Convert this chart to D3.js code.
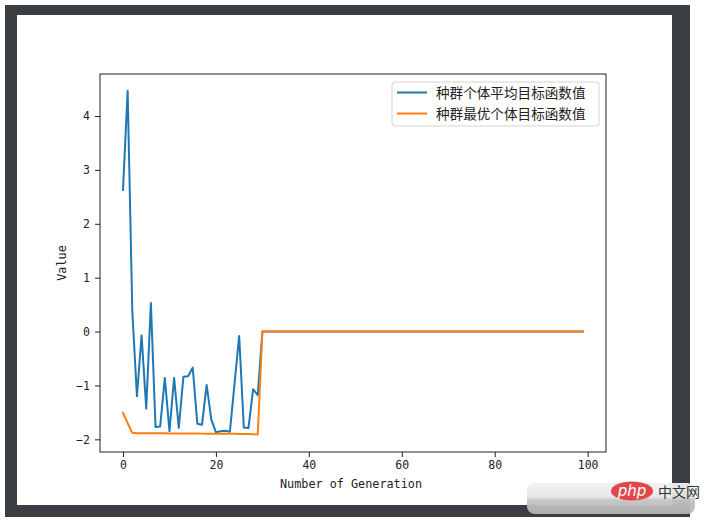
<!DOCTYPE html>
<html>
<head>
<meta charset="utf-8">
<script src="https://cdn.jsdelivr.net/npm/d3@7"></script>
<style>
  body { margin: 0; background: #fff; }
  svg { display: block; }
</style>
</head>
<body>
<svg id="chart"></svg>
<script>
(function() {

    // Mean objective value of the population, per generation
    const avgValues = [
        2.63, 4.47, 0.38, -1.20, -0.07, -1.43, 0.53, -1.77, -1.76, -0.86,
        -1.85, -0.86, -1.79, -0.84, -0.83, -0.67, -1.71, -1.73, -0.99, -1.63,
        -1.87, -1.85, -1.84, -1.86, -0.97, -0.08, -1.78, -1.79, -1.07, -1.18,
        0, 0, 0, 0, 0, 0, 0, 0, 0, 0,
        0, 0, 0, 0, 0, 0, 0, 0, 0, 0,
        0, 0, 0, 0, 0, 0, 0, 0, 0, 0,
        0, 0, 0, 0, 0, 0, 0, 0, 0, 0,
        0, 0, 0, 0, 0, 0, 0, 0, 0, 0,
        0, 0, 0, 0, 0, 0, 0, 0, 0, 0,
        0, 0, 0, 0, 0, 0, 0, 0, 0, 0
    ];
    // Best individual's objective value, per generation
    const bestValues = [
        -1.51, -1.70, -1.88, -1.885, -1.885, -1.886, -1.887, -1.888, -1.888, -1.889,
        -1.890, -1.890, -1.891, -1.892, -1.892, -1.893, -1.893, -1.894, -1.895, -1.895,
        -1.896, -1.897, -1.897, -1.898, -1.898, -1.899, -1.900, -1.900, -1.905, -1.910,
        0, 0, 0, 0, 0, 0, 0, 0, 0, 0,
        0, 0, 0, 0, 0, 0, 0, 0, 0, 0,
        0, 0, 0, 0, 0, 0, 0, 0, 0, 0,
        0, 0, 0, 0, 0, 0, 0, 0, 0, 0,
        0, 0, 0, 0, 0, 0, 0, 0, 0, 0,
        0, 0, 0, 0, 0, 0, 0, 0, 0, 0,
        0, 0, 0, 0, 0, 0, 0, 0, 0, 0
    ];
    const seriesNames = ['种群个体平均目标函数值', '种群最优个体目标函数值'];
    const seriesColors = ['#1f77b4', '#ff7f0e'];
    const xTicks = [0, 20, 40, 60, 80, 100];
    const yTicks = [-2, -1, 0, 1, 2, 3, 4];

    const w = 712;
    const h = 524;
    const plot = { left: 100, right: 606, top: 74, bottom: 452 };
    const latinFont = '"DejaVu Sans Mono", monospace';
    const cjkFont = '"Noto Sans CJK SC", sans-serif';

    const svg = d3.select('#chart')
        .attr('width', w)
        .attr('height', h);

    // screenshot frame
    const frame = '#3a3e42';
    svg.append('rect').attr('x', 5).attr('y', 5).attr('width', 685).attr('height', 512).attr('fill', frame);
    svg.append('rect').attr('x', 17).attr('y', 15).attr('width', 655).attr('height', 490).attr('fill', '#fff');

    const x = d3.scaleLinear()
        .domain([-4.95, 103.95])
        .range([plot.left, plot.right]);

    const y = d3.scaleLinear()
        .domain([-2.235, 4.78])
        .range([plot.bottom, plot.top]);

    const line = d3.line()
        .x((d, i) => x(i))
        .y(d => y(d));

    const series = [avgValues, bestValues];

    svg.selectAll('path.series')
        .data(series)
        .enter()
        .append('path')
        .attr('class', 'series')
        .attr('d', d => line(d))
        .attr('fill', 'none')
        .attr('stroke', (d, i) => seriesColors[i])
        .attr('stroke-width', 2)
        .attr('stroke-linejoin', 'round')
        .attr('stroke-linecap', 'square');

    // axes
    const xAxis = svg.append('g')
        .attr('transform', `translate(0, ${ plot.bottom })`)
        .call(d3.axisBottom(x).tickValues(xTicks).tickFormat(d3.format('d'))
            .tickSize(5).tickPadding(4).tickSizeOuter(0));

    const yAxis = svg.append('g')
        .attr('transform', `translate(${ plot.left }, 0)`)
        .call(d3.axisLeft(y).tickValues(yTicks).tickFormat(d3.format('d'))
            .tickSize(5).tickPadding(5).tickSizeOuter(0));

    [xAxis, yAxis].forEach(g => {
        g.select('.domain').remove();
        g.selectAll('line').attr('stroke', '#222').attr('stroke-width', 1);
        g.selectAll('text')
            .attr('fill', '#222')
            .style('font-family', latinFont)
            .style('font-size', '11.5px');
    });

    svg.append('rect')
        .attr('x', plot.left)
        .attr('y', plot.top)
        .attr('width', plot.right - plot.left)
        .attr('height', plot.bottom - plot.top)
        .attr('fill', 'none')
        .attr('stroke', '#222')
        .attr('stroke-width', 1);

    svg.append('text')
        .attr('x', (plot.left + plot.right) / 2 - 2)
        .attr('y', 488)
        .attr('text-anchor', 'middle')
        .attr('fill', '#222')
        .style('font-family', latinFont)
        .style('font-size', '11.8px')
        .text('Number of Generation');

    svg.append('text')
        .attr('transform', 'translate(66, 263) rotate(-90)')
        .attr('text-anchor', 'middle')
        .attr('fill', '#222')
        .style('font-family', latinFont)
        .style('font-size', '11.8px')
        .text('Value');

    // legend
    const legend = svg.append('g').attr('transform', 'translate(392, 82)');
    legend.append('rect')
        .attr('width', 207)
        .attr('height', 44)
        .attr('rx', 3)
        .attr('fill', '#fff')
        .attr('fill-opacity', 0.8)
        .attr('stroke', '#d4d4d4');

    const item = legend.selectAll('g.item')
        .data(seriesNames)
        .enter()
        .append('g')
        .attr('class', 'item')
        .attr('transform', (d, i) => `translate(0, ${ 10.5 + i * 21 })`);

    item.append('line')
        .attr('x1', 5).attr('x2', 35)
        .attr('stroke', (d, i) => seriesColors[i])
        .attr('stroke-width', 2);

    item.append('text')
        .attr('x', 44)
        .attr('y', 5)
        .attr('fill', '#222')
        .style('font-family', cjkFont)
        .style('font-size', '13.6px')
        .text(d => d);

    // watermark
    const defs = svg.append('defs');
    const band = defs.append('linearGradient').attr('id', 'band').attr('x1', 0).attr('y1', 0).attr('x2', 0).attr('y2', 1);
    band.append('stop').attr('offset', '0%').attr('stop-color', '#f2f2f2');
    band.append('stop').attr('offset', '45%').attr('stop-color', '#e6e6e6');
    band.append('stop').attr('offset', '55%').attr('stop-color', '#c4c4c4');
    band.append('stop').attr('offset', '100%').attr('stop-color', '#b4b4b4');
    svg.append('rect')
        .attr('x', 527).attr('y', 483).attr('width', 168).attr('height', 31)
        .attr('rx', 8)
        .attr('fill', 'url(#band)')
        .attr('opacity', 0.95);

    svg.append('ellipse')
        .attr('cx', 632).attr('cy', 491).attr('rx', 21).attr('ry', 9.5)
        .attr('fill', '#e2474c');
    svg.append('text')
        .attr('x', 632).attr('y', 496)
        .attr('text-anchor', 'middle')
        .attr('fill', '#fff')
        .style('font-family', '"DejaVu Sans", sans-serif')
        .style('font-style', 'italic')
        .style('font-size', '15px')
        .text('php');
    svg.append('text')
        .attr('x', 658).attr('y', 497)
        .attr('fill', '#333')
        .style('font-family', cjkFont)
        .style('font-size', '14px')
        .text('中文网');

})();
</script>
</body>
</html>
